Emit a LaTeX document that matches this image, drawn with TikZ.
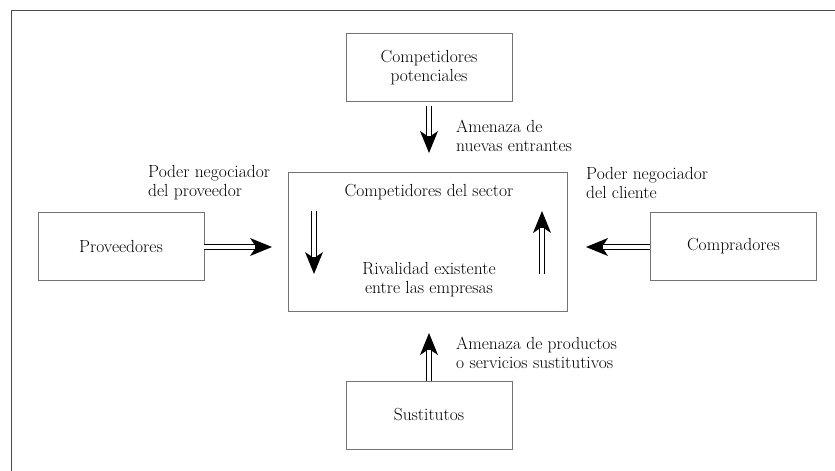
\documentclass[tikz,border=0pt]{standalone}
\usetikzlibrary{arrows.meta}

\tikzset{
  caja/.style={draw=black!55, line width=0.9pt, minimum width=166pt, minimum height=68pt, align=center},
  flecha/.style={draw=black, line width=5.8pt,
                 -{Stealth[length=22pt,width=18pt,inset=6pt,line width=0pt]},
                 postaction={draw=white, line width=4pt, shorten >=17pt, -}},
  etiqueta/.style={anchor=west, align=left, inner sep=0pt}
}

\begin{document}
\begin{tikzpicture}[x=1pt, y=-1pt, font=\fontsize{17.5}{19}\selectfont]
      \useasboundingbox (0, 0) rectangle (835, 471);
      % 外枠
      \draw[black!70, line width=1pt] (11, 471) -- (11, 10.5) -- (835, 10.5);

      \node[caja] (potenciales) at (429, 67.5) {Competidores\\potenciales};
      \node[caja] (proveedores) at (121, 246) {Proveedores};
      \node[caja] (compradores) at (733.5, 246) {Compradores};
      \node[caja] (sustitutos) at (429, 415) {Sustitutos};
      \node[caja, minimum width=279pt, minimum height=139pt] (sector) at (427.5, 241.5) {};

      \node (titulo) at (429, 192) {Competidores del sector};
      \node[align=center] (rivalidad) at (429, 280) {Rivalidad existente\\entre las empresas};

      % ラベルをはる
      \node[etiqueta] (entrantes) at (456, 135.5) {Amenaza de\\nuevas entrantes};
      \node[etiqueta] (proveedor) at (148, 183) {Poder negociador\\del proveedor};
      \node[etiqueta] (cliente) at (586, 183) {Poder negociador\\del cliente};
      \node[etiqueta] (sustitutivos) at (456, 353) {Amenaza de productos\\o servicios sustitutivos};

      \coordinate (a) at (429, 106);
      \coordinate (b) at (429, 153);
      \coordinate (c) at (429, 333);
      \coordinate (d) at (272, 247);
      \coordinate (e) at (586, 247);
      \coordinate (f1) at (314, 211);
      \coordinate (f2) at (314, 274);
      \coordinate (g1) at (542, 274);
      \coordinate (g2) at (542, 211);

      \draw[flecha] (a) -- (b);
      \draw[flecha] (sustitutos.north) -- (c);
      \draw[flecha] (proveedores.east |- d) -- (d);
      \draw[flecha] (compradores.west |- e) -- (e);
      \draw[flecha] (f1) -- (f2);
      \draw[flecha] (g1) -- (g2);
  \end{tikzpicture}
\end{document}
